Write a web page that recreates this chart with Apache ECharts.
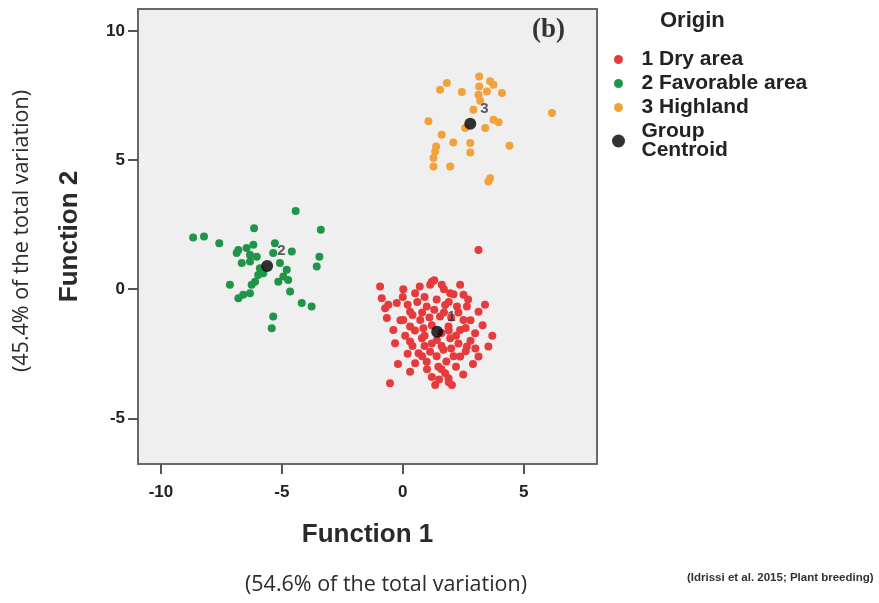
<!DOCTYPE html>
<html>
<head>
<meta charset="utf-8">
<script src="https://cdn.jsdelivr.net/npm/echarts@6/dist/echarts.min.js"></script>
<style>html,body{margin:0;padding:0;background:#fff}#c{width:879px;height:603px}</style>
</head>
<body>
<div id="c"></div>
<script>
const groupNames = ['1 Dry area', '2 Favorable area', '3 Highland'];
const centroidName = 'Group Centroid';
const xTicks = [-10, -5, 0, 5];
const yTicks = [-5, 0, 5, 10];

const dryArea = [
  [-0.94,0.10],[0.02,0.00],[0.51,-0.16],[1.20,0.29],[1.13,0.17],[1.61,0.17],[2.37,0.17],[1.96,-0.16],
  [2.51,-0.22],[-0.87,-0.35],[-0.25,-0.54],[-0.73,-0.74],[0.30,-0.87],[0.99,-0.67],[1.75,-0.61],[2.24,-0.67],
  [2.65,-0.67],[3.13,-0.87],[-0.66,-1.12],[0.02,-1.19],[0.72,-1.19],[1.54,-1.06],[2.51,-1.19],[-0.39,-1.58],
  [0.30,-1.45],[0.85,-1.51],[1.89,-1.45],[2.37,-1.58],[2.99,-1.71],[-0.32,-2.09],[0.30,-2.03],[0.79,-1.90],
  [1.41,-1.97],[1.96,-1.90],[2.65,-2.22],[3.54,-2.22],[0.65,-2.48],[1.13,-2.42],[1.68,-2.35],[2.37,-2.61],
  [3.13,-2.61],[0.51,-2.87],[0.99,-2.81],[1.47,-3.00],[1.75,-3.26],[1.89,-3.45],[1.34,-3.71],[-0.53,-3.64],
  [2.03,-3.71],[0.6,-0.5],[0.9,-0.3],[1.4,-0.4],[1.9,-0.5],[2.1,-0.2],[0.4,-1.0],[0.8,-0.9],[1.1,-1.1],
  [1.3,-0.8],[1.7,-0.9],[2.0,-1.1],[2.3,-0.9],[2.8,-1.2],[0.5,-1.6],[0.9,-1.8],[1.2,-1.4],[1.6,-1.7],
  [1.9,-1.6],[2.2,-1.8],[2.6,-1.5],[0.1,-1.8],[0.4,-2.2],[0.9,-2.2],[1.2,-2.1],[1.6,-2.2],[2.0,-2.3],
  [2.3,-2.1],[2.8,-2.0],[0.8,-2.6],[1.4,-2.6],[1.8,-2.8],[2.1,-2.6],[2.6,-2.4],[1.0,-3.1],[1.6,-3.1],
  [2.2,-3.0],[1.2,-3.4],[0.2,-2.5],[-0.1,-1.2],[0.2,-0.6],[3.3,-1.4],[3.0,-2.3],[-0.6,-0.6],[0.0,-0.3],
  [1.7,0.0],[2.7,-0.4],[3.4,-0.6],[1.3,0.35],[0.7,0.1],[2.9,-2.9],[0.3,-3.2],[1.9,-3.6],[1.5,-3.5],
  [-0.2,-2.9],[3.7,-1.8],[2.5,-3.3],[3.13,1.52]
];

const favorableArea = [
  [-4.43,3.03],[-8.67,2.00],[-8.22,2.04],[-7.59,1.78],[-6.15,2.36],[-3.39,2.30],[-6.80,1.52],[-6.46,1.59],
  [-6.18,1.72],[-6.87,1.40],[-6.32,1.33],[-6.04,1.26],[-5.29,1.78],[-5.36,1.40],[-4.59,1.46],[-6.66,1.01],
  [-6.32,1.07],[-5.91,0.81],[-5.08,1.01],[-4.80,0.75],[-4.94,0.49],[-5.15,0.29],[-4.74,0.36],[-5.98,0.55],
  [-6.11,0.29],[-6.25,0.17],[-7.15,0.17],[-4.66,-0.09],[-6.32,-0.16],[-6.60,-0.22],[-6.80,-0.35],[-3.45,1.26],
  [-3.56,0.88],[-4.18,-0.54],[-3.77,-0.67],[-5.36,-1.06],[-5.42,-1.51],[-5.77,0.62]
];

const highland = [
  [3.16,8.24],[1.82,7.98],[1.54,7.72],[2.44,7.64],[3.16,7.85],[3.61,8.05],[3.75,7.92],[3.48,7.66],
  [3.13,7.53],[4.10,7.60],[2.92,6.95],[6.17,6.82],[1.06,6.50],[3.75,6.56],[3.96,6.46],[2.58,6.24],
  [3.41,6.24],[1.61,5.98],[2.09,5.68],[2.79,5.66],[2.79,5.29],[1.38,5.53],[1.34,5.33],[1.27,5.08],
  [1.27,4.75],[1.96,4.75],[4.41,5.55],[3.61,4.30],[3.54,4.17],[3.2,7.3]
];

const centroids = [[1.42,-1.65],[-5.61,0.90],[2.79,6.41]];
const centroidLabels = ['1', '2', '3'];
const groupColors = ['#e53b3d', '#1f9549', '#f1a23a'];

const FONT = 'Liberation Sans';
const chart = echarts.init(document.getElementById('c'), null, {renderer: 'canvas'});

const groupData = [dryArea, favorableArea, highland];
const series = groupNames.map((n, i) => ({
  name: n, type: 'scatter', data: groupData[i], symbolSize: 8,
  itemStyle: {color: groupColors[i], opacity: 1}, emphasis: {disabled: true}, z: 2
}));
series.push({
  name: centroidName, type: 'scatter', symbolSize: 12, z: 5,
  data: centroids.map((c, i) => ({value: c, label: {formatter: centroidLabels[i]}})),
  itemStyle: {color: '#000'}, emphasis: {disabled: true},
  label: {show: true, position: 'right', distance: 4, offset: [0, -15],
    fontFamily: FONT, fontWeight: 'bold', fontSize: 15, color: '#333'}
});

const axisLabelStyle = {fontFamily: FONT, fontWeight: 'bold', fontSize: 17, color: '#222'};
const nameStyle = {fontFamily: FONT, fontWeight: 'bold', fontSize: 26, color: '#2a2a2a'};

chart.setOption({
  animation: false,
  backgroundColor: '#ffffff',
  title: {text: 'Origin', left: 655, top: 5,
    textStyle: {fontFamily: FONT, fontWeight: 'bold', fontSize: 22, color: '#222'}},
  grid: {left: 138, right: 282, top: 9, bottom: 139, show: true,
    backgroundColor: '#efefef', borderColor: '#686868', borderWidth: 2},
  xAxis: {
    type: 'value', min: -10.95, max: 8.03,
    axisLine: {show: false, onZero: false},
    splitLine: {show: false},
    axisTick: {show: true, length: 10, customValues: xTicks, lineStyle: {color: '#555', width: 2}},
    axisLabel: Object.assign({customValues: xTicks, margin: 20}, axisLabelStyle),
    name: 'Function 1', nameLocation: 'middle', nameGap: 58, nameTextStyle: nameStyle
  },
  yAxis: {
    type: 'value', min: -6.77, max: 10.85,
    axisLine: {show: false, onZero: false},
    splitLine: {show: false},
    axisTick: {show: true, length: 10, customValues: yTicks, lineStyle: {color: '#555', width: 2}},
    axisLabel: Object.assign({customValues: yTicks, margin: 13}, axisLabelStyle),
    name: 'Function 2', nameLocation: 'middle', nameGap: 55, nameTextStyle: nameStyle
  },
  legend: [
    {data: groupNames, orient: 'vertical', left: 609, top: 44, itemWidth: 36, itemHeight: 9, itemGap: 3,
      icon: 'circle', selectedMode: false,
      textStyle: {fontFamily: FONT, fontWeight: 'bold', fontSize: 21, color: '#222'}},
    {data: [centroidName], orient: 'vertical', left: 607, top: 116, itemWidth: 36, itemHeight: 13,
      icon: 'circle', selectedMode: false,
      formatter: n => n.replace(' ', '\n'),
      textStyle: {fontFamily: FONT, fontWeight: 'bold', fontSize: 21, lineHeight: 19, color: '#222'}}
  ],
  graphic: [
    {type: 'text', left: 532, top: 17, style: {text: '(b)', font: 'bold 27px "Liberation Serif"', fill: '#333'}},
    {type: 'text', x: 386, y: 585, style: {text: '(54.6% of the total variation)', font: '21.5px "Open Sans"',
      fill: '#2b2b2b', align: 'center', verticalAlign: 'middle'}},
    {type: 'text', x: 22, y: 231, rotation: Math.PI / 2, style: {text: '(45.4% of the total variation)',
      font: '21.5px "Open Sans"', fill: '#2b2b2b', align: 'center', verticalAlign: 'middle'}},
    {type: 'text', x: 687, y: 578, style: {text: '(Idrissi et al. 2015; Plant breeding)',
      font: 'bold 11.5px "Liberation Sans"', fill: '#333', verticalAlign: 'middle'}}
  ],
  series: series
});
</script>
</body>
</html>
